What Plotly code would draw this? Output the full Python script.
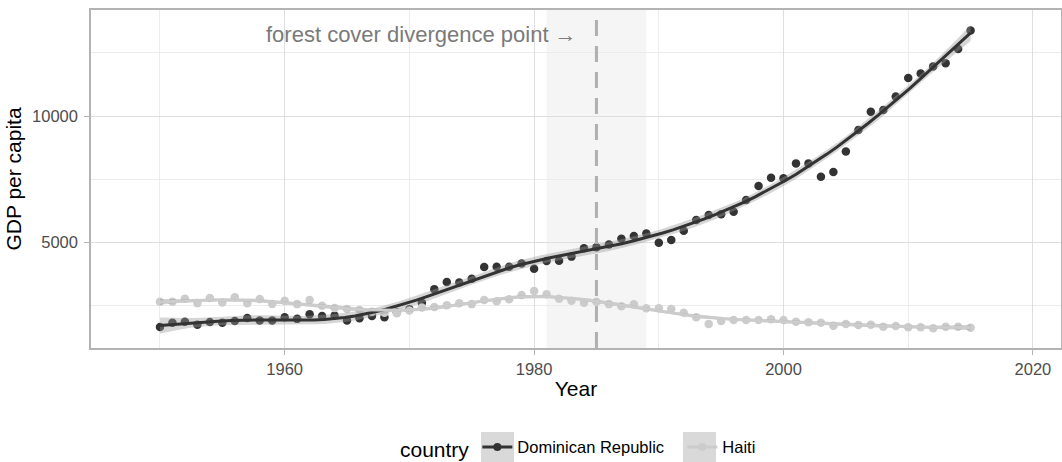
import numpy as np
import plotly.graph_objects as go

# ---------------- data ----------------
years = list(range(1950, 2016))

dominican_republic = [
    1630, 1800, 1840, 1720, 1825, 1800, 1865, 1985, 1885, 1885,
    2010, 1950, 2130, 2063, 2085, 1885, 1971, 2063, 2011, 2200,
    2330, 2590, 3130, 3415, 3395, 3540, 4005, 4020, 4020, 4150,
    3935, 4250, 4260, 4420, 4750, 4790, 4905, 5130, 5240, 5340,
    4970, 5080, 5450, 5870, 6070, 6100, 6200, 6670, 7220, 7550,
    7530, 8120, 8120, 7590, 7780, 8590, 9440, 10170, 10240, 10770,
    11510, 11690, 11960, 12090, 12660, 13390,
]

haiti = [
    2632, 2632, 2745, 2575, 2775, 2600, 2810, 2570, 2740, 2540,
    2665, 2535, 2700, 2468, 2385, 2340, 2300, 2235, 2196, 2170,
    2280, 2400, 2420, 2487, 2566, 2535, 2698, 2645, 2724, 2897,
    3056, 2923, 2745, 2665, 2593, 2632, 2535, 2447, 2527, 2368,
    2368, 2341, 2196, 2011, 1746, 1865, 1905, 1905, 1905, 1931,
    1905, 1839, 1813, 1799, 1680, 1746, 1706, 1720, 1640, 1666,
    1613, 1613, 1574, 1640, 1640, 1600,
]

country_names = ["Dominican Republic", "Haiti"]
country_colors = ["#333333", "#cccccc"]

divergence_year = 1985
shade_start, shade_end = 1981, 1989
annotation_text = "forest cover divergence point \u2192"
x_ticks = [1960, 1980, 2000, 2020]
y_ticks = [5000, 10000]
y_tick_text = ["5000", "10000"]

FONT = "Liberation Sans, Arial, sans-serif"
N_KNOTS = 10

# plot-area geometry (pixels) used to place legend-key backgrounds in paper units
W, H = 1062, 462
ML, MR, MT, MB = 91, 1, 10, 114
PW, PH = W - ML - MR, H - MT - MB


def px_to_paper_x(px):
    return (px - ML) / PW


def px_to_paper_y(py):
    return (H - MB - py) / PH


# ---------------- penalized cubic regression spline (like mgcv s(x, bs="cr"), REML) ----------------
def cr_setup(knots):
    k = len(knots)
    h = np.diff(knots)
    D = np.zeros((k - 2, k))
    B = np.zeros((k - 2, k - 2))
    for i in range(k - 2):
        D[i, i] = 1 / h[i]
        D[i, i + 1] = -1 / h[i] - 1 / h[i + 1]
        D[i, i + 2] = 1 / h[i + 1]
        B[i, i] = (h[i] + h[i + 1]) / 3
        if i > 0:
            B[i, i - 1] = h[i] / 6
        if i < k - 3:
            B[i, i + 1] = h[i + 1] / 6
    F = np.zeros((k, k))
    F[1:-1, :] = np.linalg.solve(B, D)
    S = D.T @ np.linalg.solve(B, D)
    return F, S


def cr_design(x, knots, F):
    k = len(knots)
    X = np.zeros((len(x), k))
    for r, xv in enumerate(x):
        j = min(max(np.searchsorted(knots, xv, side="right") - 1, 0), k - 2)
        h = knots[j + 1] - knots[j]
        a = (knots[j + 1] - xv) / h
        c = (xv - knots[j]) / h
        row = np.zeros(k)
        row[j] += a
        row[j + 1] += c
        row += ((a ** 3 - a) * h * h / 6) * F[j] + ((c ** 3 - c) * h * h / 6) * F[j + 1]
        X[r] = row
    return X


def smooth(x, y, n_eval=80):
    x = np.asarray(x, float)
    y = np.asarray(y, float)
    n = len(x)
    knots = np.quantile(x, np.linspace(0, 1, N_KNOTS))
    F, S = cr_setup(knots)
    X = cr_design(x, knots, F)
    Mp = 2
    evals = np.linalg.eigvalsh(S)
    pos = evals[evals > 1e-10 * evals.max()]
    best = None
    for loglam in np.linspace(-8, 12, 401):
        lam = np.exp(loglam) * np.trace(X.T @ X) / np.trace(S)
        A = X.T @ X + lam * S
        beta = np.linalg.solve(A, X.T @ y)
        rss = np.sum((y - X @ beta) ** 2)
        pen = rss + lam * beta @ S @ beta
        sign, logdetA = np.linalg.slogdet(A)
        crit = (n - Mp) * np.log(pen) + logdetA - np.sum(np.log(lam * pos))
        if best is None or crit < best[0]:
            best = (crit, lam, beta, A, rss)
    _, lam, beta, A, rss = best
    Ainv = np.linalg.inv(A)
    edf = np.trace(Ainv @ X.T @ X)
    sigma2 = rss / (n - edf)
    xe = np.linspace(x.min(), x.max(), n_eval)
    Xe = cr_design(xe, knots, F)
    fit = Xe @ beta
    se = np.sqrt(np.einsum("ij,jk,ik->i", Xe, Ainv, Xe) * sigma2)
    z = 1.96
    return xe, fit, fit - z * se, fit + z * se


# ---------------- figure ----------------
fig = go.Figure()

series = [dominican_republic, haiti]

# points
for name, vals, col in zip(country_names, series, country_colors):
    fig.add_trace(go.Scatter(
        x=years, y=vals, mode="markers",
        marker=dict(color=col, size=8.5),
        showlegend=False, legendgroup=name, hoverinfo="x+y",
    ))

# smooths with confidence ribbons
for name, vals, col in zip(country_names, series, country_colors):
    xe, fit, lo, hi = smooth(years, vals)
    fig.add_trace(go.Scatter(
        x=np.concatenate([xe, xe[::-1]]), y=np.concatenate([hi, lo[::-1]]),
        fill="toself", fillcolor="rgba(153,153,153,0.4)", line=dict(width=0),
        mode="lines", showlegend=False, hoverinfo="skip", legendgroup=name,
    ))
    fig.add_trace(go.Scatter(
        x=xe, y=fit, mode="lines", line=dict(color=col, width=3),
        showlegend=False, legendgroup=name, hoverinfo="skip",
    ))

# legend entries (line + point key)
for name, col in zip(country_names, country_colors):
    fig.add_trace(go.Scatter(
        x=[None], y=[None], mode="lines+markers", name=name,
        line=dict(color=col, width=3), marker=dict(color=col, size=8),
        legendgroup=name,
    ))

# shaded period and dashed divergence line
fig.add_shape(type="rect", xref="x", yref="paper",
              x0=shade_start, x1=shade_end, y0=0, y1=1,
              fillcolor="rgba(200,200,200,0.18)", line=dict(width=0),
              layer="between")
fig.add_shape(type="line", xref="x", yref="paper",
              x0=divergence_year, x1=divergence_year, y0=0, y1=1,
              line=dict(color="#b0b0b0", width=3, dash="16px,10px"),
              layer="above")

# grey legend key backgrounds (ggplot draws the ribbon fill in each key)
LEGEND_LEFT_PX = 398
for kx0, kx1 in [(481, 514), (683, 716)]:
    fig.add_shape(type="rect", xref="paper", yref="paper",
                  x0=px_to_paper_x(kx0), x1=px_to_paper_x(kx1),
                  y0=px_to_paper_y(432), y1=px_to_paper_y(462),
                  fillcolor="#d9d9d9", line=dict(width=0), layer="below")

fig.add_annotation(
    x=1983.6, y=13250, xref="x", yref="y",
    text=annotation_text, showarrow=False,
    xanchor="right", yanchor="middle",
    font=dict(family=FONT, size=22, color="#7a7a7a"),
)

axis_common = dict(
    showline=True, linecolor="#b3b3b3", linewidth=1.5, mirror=True,
    ticks="outside", ticklen=5, tickcolor="#b3b3b3", tickwidth=1.2,
    showgrid=True, gridcolor="#dedede", gridwidth=1,
    zeroline=False, automargin=False,
    tickfont=dict(family=FONT, size=16.5, color="#4d4d4d"),
)

fig.update_xaxes(
    **axis_common,
    range=[1944.47, 2022.25],
    tickvals=x_ticks,
    ticklabelstandoff=0,
    minor=dict(dtick=20, tick0=1950, showgrid=True, gridcolor="#ececec", gridwidth=0.7, ticks=""),
    title=dict(text="Year", font=dict(family=FONT, size=21, color="#000000"), standoff=5),
)
fig.update_yaxes(
    **axis_common,
    range=[794, 14206],
    tickvals=y_ticks,
    ticktext=y_tick_text,
    ticklabelstandoff=3,
    minor=dict(dtick=5000, tick0=2500, showgrid=True, gridcolor="#ececec", gridwidth=0.7, ticks=""),
    title=dict(text="GDP per capita", font=dict(family=FONT, size=21, color="#000000"), standoff=5),
)

fig.update_layout(
    width=W, height=H,
    margin=dict(l=ML, r=MR, t=MT, b=MB, autoexpand=False),
    plot_bgcolor="white", paper_bgcolor="white",
    font=dict(family=FONT),
    showlegend=True,
    legend=dict(
        orientation="h", x=px_to_paper_x(LEGEND_LEFT_PX), xanchor="left",
        y=-0.242, yanchor="top",
        entrywidth=160, entrywidthmode="pixels",
        title=dict(text="country", font=dict(size=21, color="#000000"), side="left"),
        font=dict(size=16.5, color="#000000"),
        bgcolor="rgba(0,0,0,0)",
    ),
)

fig.write_html("out.html", config={"displayModeBar": False},
               post_script="document.body.style.margin='0px';")
